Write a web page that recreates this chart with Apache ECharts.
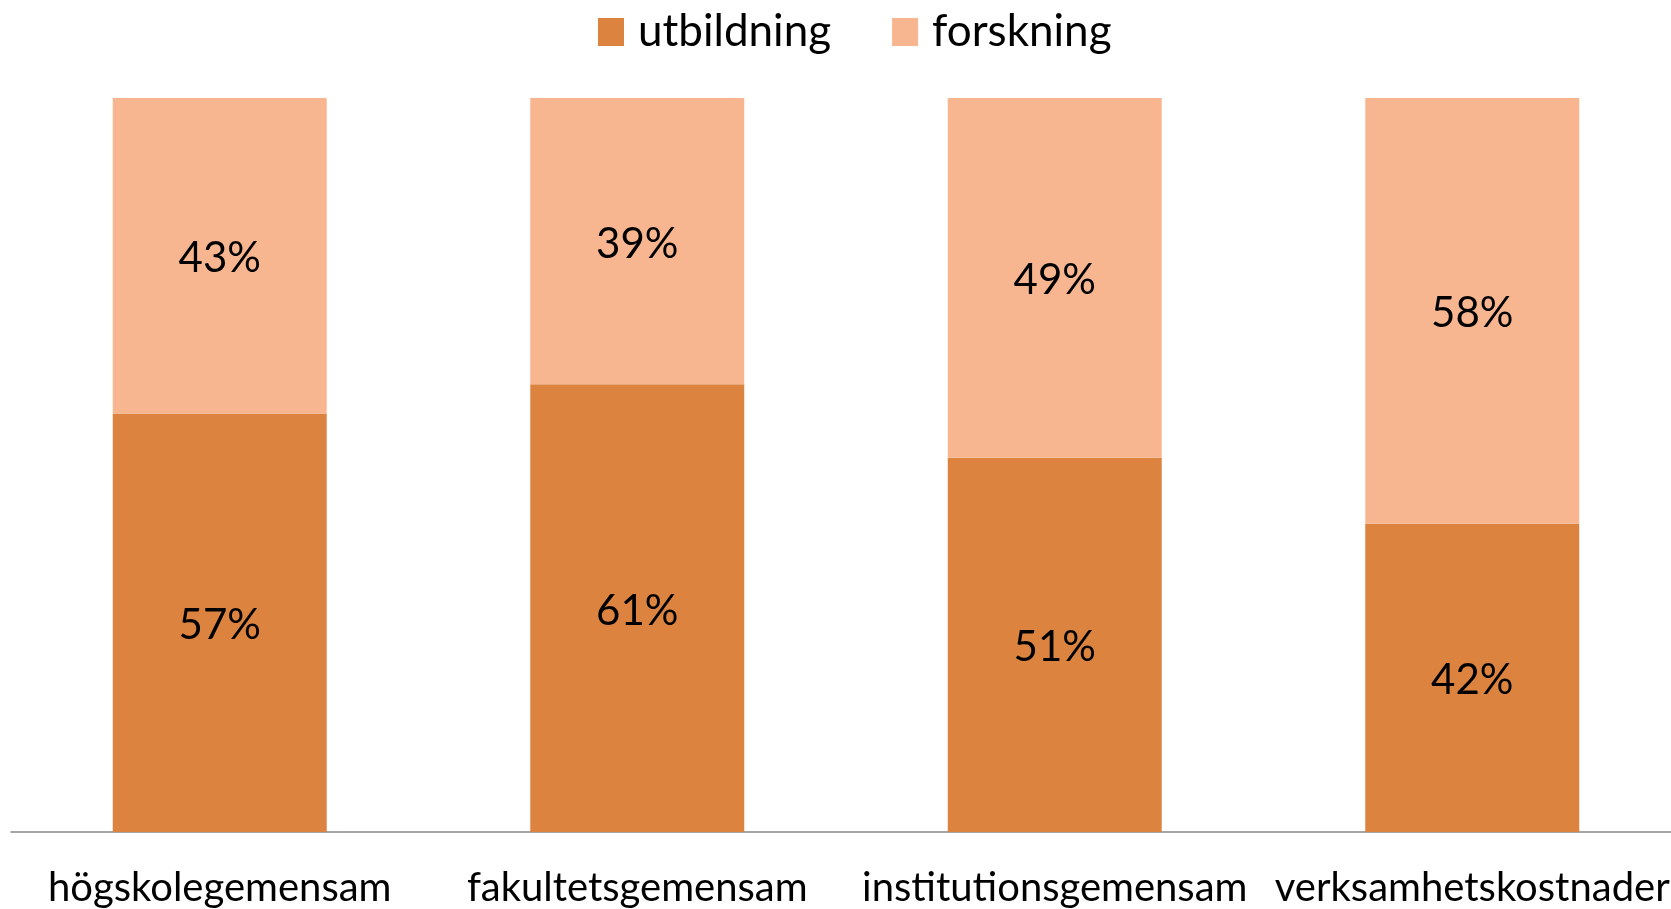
<!DOCTYPE html>
<html>
<head>
<meta charset="utf-8">
<script src="https://cdn.jsdelivr.net/npm/echarts@6/dist/echarts.min.js"></script>
<style>
    html, body { margin: 0; padding: 0; background: #fff; }
    #chart { width: 1671px; height: 909px; }
</style>
</head>
<body>
<div id="chart"></div>
<script>
// kategorier och andelar (%)
const categories = ['högskolegemensam', 'fakultetsgemensam', 'institutionsgemensam', 'verksamhetskostnader'];
const utbildning = [57, 61, 51, 42];
const forskning = [43, 39, 49, 58];

const chart = echarts.init(document.getElementById('chart'));

const label = {
    show: true,
    position: 'inside',
    offset: [0, 3],
    formatter: (p) => p.value + '%',
    color: '#000',
    fontFamily: 'Lato',
    fontSize: 42,
};

chart.setOption({
    animation: false,
    legend: {
        data: ['utbildning', 'forskning'],
        icon: 'rect',
        left: 593,
        top: 5,
        itemWidth: 26,
        itemHeight: 28,
        itemGap: 61,
        textStyle: {fontFamily: 'Lato', fontSize: 44, color: '#000', padding: [0, 0, 0, 9]},
    },
    grid: {
        left: 11,
        width: 1670,
        top: 98,
        bottom: 77,
        outerBoundsMode: 'none',
    },
    xAxis: {
        type: 'category',
        data: categories,
        axisLine: {lineStyle: {color: '#888', width: 1.5}},
        axisTick: {show: false},
        axisLabel: {
            color: '#000',
            fontFamily: 'Lato',
            fontSize: 40,
            margin: 36,
            interval: 0,
        },
    },
    yAxis: {
        type: 'value',
        min: 0,
        max: 100,
        show: false,
    },
    series: [
        {
            name: 'utbildning',
            type: 'bar',
            stack: 'total',
            barWidth: 214,
            data: utbildning,
            itemStyle: {color: '#DC843F'},
            label: label,
        },
        {
            name: 'forskning',
            type: 'bar',
            stack: 'total',
            barWidth: 214,
            data: forskning,
            itemStyle: {color: '#F8B690'},
            label: label,
        },
    ],
});
</script>
</body>
</html>
